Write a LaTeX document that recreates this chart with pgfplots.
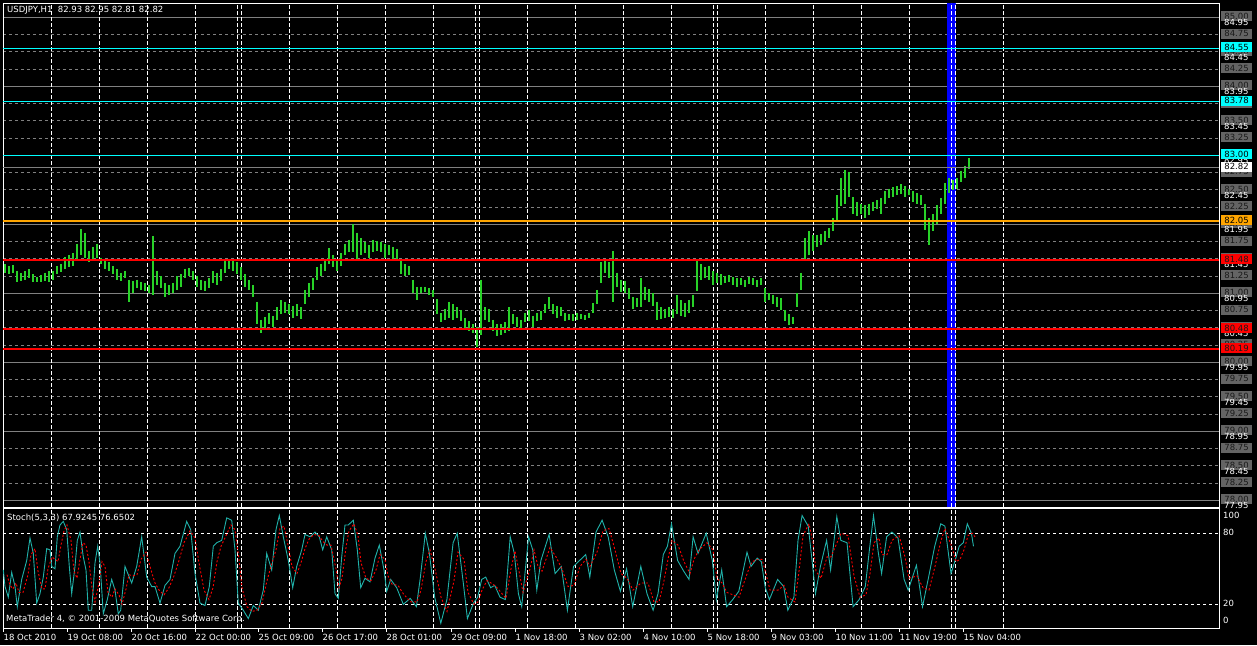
\documentclass[border=0pt]{standalone}
\usepackage{fontspec}
\setmainfont{DejaVu Sans}
\usepackage{pgfplots}
\usepackage{pgfplotstable}
\pgfplotsset{compat=1.18}

\definecolor{barg}{RGB}{40,210,40}
\definecolor{gridg}{RGB}{128,128,128}
\definecolor{boxg}{RGB}{100,100,100}
\definecolor{boxt}{RGB}{25,25,25}
\definecolor{stk}{RGB}{32,178,170}
\definecolor{lcyan}{RGB}{0,255,255}
\definecolor{lorange}{RGB}{255,165,0}
\definecolor{lred}{RGB}{255,0,0}
\definecolor{lblue}{RGB}{0,0,255}
\newcommand\mtfont{\fontsize{8.5}{9.5}\selectfont}

% H1 bars, x in chart pixels, low / high price
\pgfplotstableread{
x lo hi
5 81.30 81.42
9 81.28 81.40
13 81.30 81.41
17 81.16 81.33
21 81.18 81.30
25 81.20 81.32
29 81.22 81.35
33 81.17 81.28
37 81.16 81.24
41 81.17 81.26
45 81.18 81.30
49 81.17 81.32
53 81.20 81.33
57 81.28 81.40
61 81.31 81.43
65 81.36 81.53
69 81.38 81.56
73 81.40 81.58
77 81.50 81.72
81 81.55 81.94
85 81.52 81.88
89 81.45 81.62
93 81.50 81.68
97 81.52 81.72
101 81.42 81.52
105 81.35 81.48
109 81.33 81.45
113 81.28 81.40
117 81.20 81.35
121 81.18 81.30
125 81.22 81.33
129 80.88 81.20
133 81.00 81.18
137 81.08 81.20
141 81.05 81.17
145 81.03 81.15
149 81.00 81.12
153 80.98 81.83
157 81.12 81.33
161 81.08 81.25
165 80.95 81.15
169 80.98 81.12
173 81.00 81.15
177 81.05 81.25
181 81.10 81.28
185 81.22 81.36
189 81.25 81.37
193 81.20 81.32
197 81.10 81.25
201 81.05 81.20
205 81.03 81.18
209 81.08 81.22
213 81.15 81.32
217 81.12 81.30
221 81.18 81.35
225 81.30 81.47
229 81.35 81.50
233 81.32 81.48
237 81.28 81.45
241 81.20 81.38
245 81.10 81.28
249 81.05 81.20
253 80.95 81.12
257 80.55 80.88
261 80.42 80.62
265 80.48 80.66
269 80.55 80.72
273 80.52 80.68
277 80.62 80.80
281 80.70 80.90
285 80.72 80.88
289 80.70 80.85
293 80.65 80.82
297 80.68 80.84
301 80.63 80.80
305 80.85 81.05
309 80.95 81.15
313 81.05 81.22
317 81.20 81.38
321 81.25 81.42
325 81.32 81.48
329 81.42 81.66
333 81.38 81.55
337 81.32 81.48
341 81.40 81.58
345 81.55 81.72
349 81.60 81.78
353 81.60 82.00
357 81.48 81.88
361 81.55 81.80
365 81.58 81.74
369 81.52 81.70
373 81.60 81.78
377 81.62 81.76
381 81.60 81.74
385 81.52 81.72
389 81.55 81.70
393 81.50 81.68
397 81.50 81.65
401 81.28 81.48
405 81.25 81.42
409 81.26 81.40
413 81.00 81.20
417 80.90 81.10
421 81.00 81.10
425 81.02 81.10
429 80.98 81.08
433 80.95 81.05
437 80.70 80.92
441 80.58 80.72
445 80.62 80.78
449 80.65 80.88
453 80.62 80.85
457 80.65 80.80
461 80.60 80.76
465 80.50 80.65
469 80.45 80.60
473 80.42 80.55
477 80.23 80.52
481 80.40 81.20
485 80.62 80.80
489 80.58 80.78
493 80.45 80.62
497 80.38 80.56
501 80.40 80.55
505 80.42 80.58
509 80.45 80.80
513 80.55 80.70
517 80.52 80.66
521 80.50 80.62
525 80.58 80.72
529 80.60 80.76
533 80.52 80.68
537 80.60 80.72
541 80.62 80.74
545 80.72 80.85
549 80.78 80.95
553 80.70 80.85
557 80.65 80.82
561 80.68 80.80
565 80.60 80.72
569 80.62 80.70
573 80.60 80.70
577 80.62 80.71
581 80.63 80.70
585 80.62 80.69
589 80.64 80.72
593 80.72 80.86
597 80.85 81.05
601 81.15 81.45
605 81.30 81.48
609 81.22 81.45
613 80.88 81.61
617 81.10 81.30
621 81.02 81.20
625 81.00 81.18
629 80.92 81.08
633 80.78 80.95
637 80.80 80.93
641 80.80 81.22
645 80.90 81.10
649 80.88 81.06
653 80.82 81.00
657 80.62 80.88
661 80.63 80.80
665 80.64 80.78
669 80.66 80.80
673 80.65 80.77
677 80.70 80.98
681 80.68 80.90
685 80.66 80.86
689 80.72 80.90
693 80.80 80.98
697 81.03 81.49
701 81.20 81.42
705 81.22 81.38
709 81.20 81.40
713 81.12 81.32
717 81.15 81.30
721 81.12 81.28
725 81.15 81.25
729 81.16 81.27
733 81.12 81.24
737 81.10 81.22
741 81.12 81.23
745 81.10 81.20
749 81.14 81.24
753 81.12 81.22
757 81.10 81.20
761 81.12 81.22
765 80.88 81.08
769 80.90 81.00
773 80.85 80.98
777 80.80 80.95
781 80.76 80.93
785 80.60 80.76
789 80.54 80.70
793 80.56 80.66
797 80.80 81.00
801 81.05 81.30
805 81.48 81.80
809 81.55 81.90
813 81.62 81.85
817 81.68 81.84
821 81.70 81.86
825 81.75 81.90
829 81.80 81.95
833 81.90 82.10
837 82.05 82.42
841 82.26 82.67
845 82.30 82.79
849 82.40 82.76
853 82.15 82.40
857 82.12 82.32
861 82.15 82.30
865 82.10 82.28
869 82.14 82.30
873 82.20 82.33
877 82.22 82.35
881 82.15 82.38
885 82.30 82.48
889 82.38 82.52
893 82.40 82.54
897 82.42 82.56
901 82.44 82.58
905 82.40 82.55
909 82.42 82.52
913 82.32 82.48
917 82.30 82.45
921 82.28 82.42
925 81.92 82.30
929 81.70 82.10
933 81.90 82.15
937 82.00 82.28
941 82.15 82.38
945 82.30 82.60
949 82.45 82.67
953 82.50 82.65
957 82.52 82.68
961 82.62 82.78
965 82.68 82.85
969 82.80 82.96
}\bars

% Stoch(5,3,3) main line
\pgfplotstableread{
x k
3.3 49
5 35
8.3 26
11.7 47
15 35
17.3 18
21.7 41
26.7 57
30 76
33.3 63
36.7 21
40 29
43.3 43
46.7 67
50 66
51.7 52
55 50
57.3 77
60 87
63.3 90
66.7 83
69.3 52
71.7 29
75 52
77.3 74
80 81
83.3 60
86 49
88.3 15
91.7 15
95 55
97.7 69
100 55
103.3 12
107.3 24
111.7 41
115 32
118.3 12
120.7 15
125 52
128.3 45
131.7 38
136.7 52
141.7 77
146.7 43
151.7 35
155 35
160 21
165 36
170 41
175 63
180 69
186.7 90
190.7 83
195 46
200 21
205 19
209.3 35
213.3 69
216.7 72
221.7 74
226.7 93
231.7 91
235 66
238.3 21
243.3 15
248.3 8
253.3 19
258.3 15
263.3 32
266.7 63
271.7 49
276 83
279.3 95
283.3 77
288.3 57
292.7 34
296.7 52
301.7 66
305 79
310 77
315 81
319.3 77
322.7 66
326.7 77
331.7 66
335 29
338.3 25
341.7 60
345 87
348.3 87
353.3 91
357.3 66
360.7 34
365 42
370 39
375 59
379.3 70
384 49
386.7 31
390.7 41
396.7 34
403.3 20
410.2 25
416.4 18
420.4 43
425.3 80
429.4 63
434.7 26
440.8 4
446.9 24
453.1 72
457.2 80
463.3 38
467.4 8
473.5 21
477.6 26
481.7 41
485.7 43
490.6 34
494.7 36
500 26
505.3 24
510.2 77
514.3 63
518.4 29
521.7 18
528.6 77
532.7 66
536.8 32
540.9 57
549.1 79
555.1 46
561.3 52
567.4 15
573.5 52
579.6 57
585.7 62
589.8 43
596 81
602.1 91
608.2 77
614.3 49
620.4 31
626.6 50
632.7 18
640.8 52
647 29
653.1 15
658 29
663.3 62
667.4 69
671.5 88
677.6 57
683.7 48
689 41
693.1 77
698 63
706.2 80
712.3 57
716.4 24
721.7 49
726.6 18
732.7 24
738.8 31
747 64
751 52
757.2 59
761.3 56
765.3 34
769.4 24
777.6 41
783.7 35
787.8 15
793.9 26
798 74
802.1 95
808.2 86
812.3 55
815.5 29
820.4 52
826.6 74
830.6 49
836.8 94
840.8 74
847 72
853.1 18
859.2 24
865.3 35
869.4 66
873.5 95
878.4 63
881.6 46
886.6 77
891.9 81
898 76
904.1 41
908.2 32
916.4 53
922.5 18
928.6 43
934.7 69
940.8 88
944.9 86
951 46
955.1 57
959.2 69
963.3 72
967.3 88
971.4 80
973.5 69
}\stochk

% Stoch signal line
\pgfplotstableread{
x d
7 45
10 36
13 33
16 38
19 30
23 30
28 45
31 62
35 67
38 48
42 33
45 33
48 50
52 60
55 58
58 56
61 70
64 82
67 87
71 74
74 48
77 42
80 58
83 72
86 70
89 56
92 34
95 22
99 38
102 56
105 52
108 30
112 26
115 33
119 28
122 20
126 33
129 45
133 44
137 45
141 58
146 64
151 49
155 38
159 32
164 28
169 34
174 44
179 57
184 72
190 82
195 76
199 55
204 32
209 24
213 34
217 56
221 69
226 78
231 87
235 83
239 58
242 34
247 18
252 14
257 15
262 21
267 40
271 52
276 66
280 84
284 86
288 70
292 52
297 46
301 55
305 67
309 75
314 79
319 78
323 73
327 70
331 70
336 50
339 34
342 42
346 68
349 82
354 88
358 78
361 55
366 42
371 40
376 49
380 62
385 58
388 44
392 37
398 36
404 28
411 22
417 22
421 32
426 56
430 66
435 50
441 26
447 14
454 40
458 64
464 58
468 30
474 20
478 22
482 32
487 40
491 38
496 35
501 30
506 25
511 50
515 65
519 48
523 30
530 50
534 66
538 52
542 48
550 68
556 60
562 50
568 35
574 36
580 52
586 58
590 52
597 64
603 82
609 84
615 66
621 46
627 42
633 32
641 38
648 38
654 22
659 22
664 40
668 58
672 74
678 70
684 56
690 46
694 58
699 66
707 72
713 66
717 42
722 38
727 30
733 28
739 26
748 48
752 56
758 58
762 58
766 46
770 32
778 32
784 36
788 26
795 22
799 48
803 78
809 88
813 72
816 48
821 42
827 60
831 60
837 72
841 80
848 78
854 44
860 26
866 28
870 46
874 72
879 76
882 62
887 62
892 74
899 78
905 60
909 42
917 44
923 34
929 32
935 52
941 74
945 84
952 68
956 56
960 58
964 66
968 78
972 80
975 77
}\stochd

\pgfplotsset{
  mtpanel/.style={
    scale only axis, anchor=south west, width=1216pt,
    xmin=3, xmax=1219,
    axis line style={white, line width=0.9pt},
    xtick=\empty, yticklabels={},
    major tick length=0pt, minor tick length=0pt,
    extra x ticks={51.7,99.5,147.6,195.3,237.7,241.3,289.3,337.3,385.3,433.4,475.6,479.5,527.5,575.5,623.5,671.6,713.7,717.5,765.3,813.4,861.2,909.4,951.2,955,1003.3},
    extra x tick labels={},
    extra x tick style={grid=major, major grid style={white, line width=0.9pt, dash pattern=on 4pt off 2pt}},
    clip=false,
  },
}
\tikzset{
  lbl/.style={font=\mtfont, inner sep=0pt, text=white},
  lvbox/.style={font=\mtfont, inner sep=0pt, minimum width=31pt, minimum height=10pt, yshift=1pt},
}

\begin{document}
\begin{tikzpicture}[x=1pt,y=1pt]
\fill[black] (0,0) rectangle (1257,645);
\useasboundingbox (0,0) rectangle (1257,645);

% price panel
\begin{axis}[mtpanel,
  at={(3pt,138pt)}, height=504pt,
  ymin=77.903, ymax=85.207,
  ytick={78,79,...,85},
  minor ytick={78.25,78.5,78.75,79.25,79.5,79.75,80.25,80.5,80.75,81.25,81.5,81.75,82.25,82.5,82.75,83.25,83.5,83.75,84.25,84.5,84.75},
  ymajorgrids, yminorgrids,
  major grid style={gridg, line width=0.9pt},
  minor grid style={gridg, line width=0.9pt, dash pattern=on 3pt off 3pt},
]
\addplot[lblue, line width=8.8pt, forget plot] coordinates {(951.1,77.903) (951.1,85.207)};
\addplot[white, line width=0.9pt, dash pattern=on 4pt off 2pt, forget plot] coordinates {(951.2,77.903) (951.2,85.207)};
\addplot[white, line width=0.9pt, dash pattern=on 4pt off 2pt, forget plot] coordinates {(955,77.903) (955,85.207)};

\addplot[draw=none, mark=none, forget plot,
  error bars/.cd, y dir=minus, y explicit, error mark=none,
  error bar style={draw=barg, line width=1.5pt, solid}]
  table[x=x, y=hi, y error minus expr=\thisrow{hi}-\thisrow{lo}] {\bars};

\addplot[lcyan, line width=1.8pt] coordinates {(3,84.55) (1219,84.55)};
\addplot[lcyan, line width=1.8pt] coordinates {(3,83.78) (1219,83.78)};
\addplot[lcyan, line width=1.8pt] coordinates {(3,83.00) (1219,83.00)};
\addplot[gridg, line width=0.9pt] coordinates {(3,82.82) (1219,82.82)};
\addplot[lorange, line width=1.8pt] coordinates {(3,82.05) (1219,82.05)};
\addplot[lred, line width=1.8pt] coordinates {(3,81.48) (1219,81.48)};
\addplot[lred, line width=1.8pt] coordinates {(3,80.48) (1219,80.48)};
\addplot[lred, line width=1.8pt] coordinates {(3,80.19) (1219,80.19)};

% level boxes of the grid indicator
\pgfplotsinvokeforeach{85.00,84.75,84.50,84.25,84.00,83.75,83.50,83.25,83.00,82.75,82.50,82.25,82.00,81.75,81.50,81.25,81.00,80.75,80.50,80.25,80.00,79.75,79.50,79.25,79.00,78.75,78.50,78.25,78.00}{
  \node[lvbox, fill=boxg, text=boxt] at (axis cs:1236.5,#1) {#1};
}
% terminal price scale
\pgfplotsinvokeforeach{84.95,84.45,83.95,83.45,82.95,82.45,81.95,81.45,80.95,80.45,79.95,79.45,78.95,78.45,77.95}{
  \draw[white, line width=0.9pt] (axis cs:1219,#1) ++(0,-2pt) -- ++(3pt,0);
  \node[lbl, anchor=west, yshift=-1.7pt] at (axis cs:1224,#1) {#1};
}
% object labels
\node[lvbox, fill=lcyan, text=black] at (axis cs:1236.5,84.55) {84.55};
\node[lvbox, fill=lcyan, text=black] at (axis cs:1236.5,83.78) {83.78};
\node[lvbox, fill=lcyan, text=black] at (axis cs:1236.5,83.00) {83.00};
\node[lvbox, fill=white, text=black] at (axis cs:1236.5,82.82) {82.82};
\node[lvbox, fill=lorange, text=black] at (axis cs:1236.5,82.05) {82.05};
\node[lvbox, fill=lred, text=boxt] at (axis cs:1236.5,81.48) {81.48};
\node[lvbox, fill=lred, text=boxt] at (axis cs:1236.5,80.48) {80.48};
\node[lvbox, fill=lred, text=boxt] at (axis cs:1236.5,80.19) {80.19};

\node[lbl, anchor=west] at (axis cs:7,85.099) {USDJPY,H1\ \ 82.93 82.95 82.81 82.82};
\end{axis}

% stochastic panel
\begin{axis}[mtpanel,
  at={(3pt,17pt)}, height=119.5pt,
  ymin=0, ymax=100.9,
  ytick={20,80}, ymajorgrids,
  major grid style={white, line width=0.9pt, dash pattern=on 3pt off 3pt},
]
\addplot[stk, line width=0.9pt] table[x=x, y=k] {\stochk};
\addplot[lred, line width=0.9pt, dash pattern=on 2pt off 2pt] table[x=x, y=d] {\stochd};

\pgfplotsinvokeforeach{100,80,20,0}{
  \draw[white, line width=0.9pt] (axis cs:1219,#1) -- ++(3pt,0);
}
\node[lbl, anchor=west] at (axis cs:1223,95.4) {100};
\node[lbl, anchor=west] at (axis cs:1223,80.3) {80};
\node[lbl, anchor=west] at (axis cs:1223,20.4) {20};
\node[lbl, anchor=west] at (axis cs:1223,6.2) {0};

\node[lbl, anchor=west] at (axis cs:7,92.9) {Stoch(5,3,3) 67.9245 76.6502};
\node[lbl, anchor=west] at (axis cs:6,7.2) {MetaTrader 4, © 2001-2009 MetaQuotes Software Corp.};

% time scale
\pgfplotsinvokeforeach{3,67,131,195,258,322,386,451,515,579,643,707,771,835,899,963}{
  \draw[white, line width=0.9pt] (axis cs:#1,0) -- (axis cs:#1,-3.4);
}
\node[lbl, anchor=west] at (axis cs:3.5,-7.6) {18 Oct 2010};
\node[lbl, anchor=west] at (axis cs:67.5,-7.6) {19 Oct 08:00};
\node[lbl, anchor=west] at (axis cs:131.5,-7.6) {20 Oct 16:00};
\node[lbl, anchor=west] at (axis cs:195.5,-7.6) {22 Oct 00:00};
\node[lbl, anchor=west] at (axis cs:258.5,-7.6) {25 Oct 09:00};
\node[lbl, anchor=west] at (axis cs:322.5,-7.6) {26 Oct 17:00};
\node[lbl, anchor=west] at (axis cs:386.5,-7.6) {28 Oct 01:00};
\node[lbl, anchor=west] at (axis cs:451.5,-7.6) {29 Oct 09:00};
\node[lbl, anchor=west] at (axis cs:515.5,-7.6) {1 Nov 18:00};
\node[lbl, anchor=west] at (axis cs:579.5,-7.6) {3 Nov 02:00};
\node[lbl, anchor=west] at (axis cs:643.5,-7.6) {4 Nov 10:00};
\node[lbl, anchor=west] at (axis cs:707.5,-7.6) {5 Nov 18:00};
\node[lbl, anchor=west] at (axis cs:771.5,-7.6) {9 Nov 03:00};
\node[lbl, anchor=west] at (axis cs:835.5,-7.6) {10 Nov 11:00};
\node[lbl, anchor=west] at (axis cs:899.5,-7.6) {11 Nov 19:00};
\node[lbl, anchor=west] at (axis cs:963.5,-7.6) {15 Nov 04:00};
\end{axis}
\end{tikzpicture}
\end{document}
